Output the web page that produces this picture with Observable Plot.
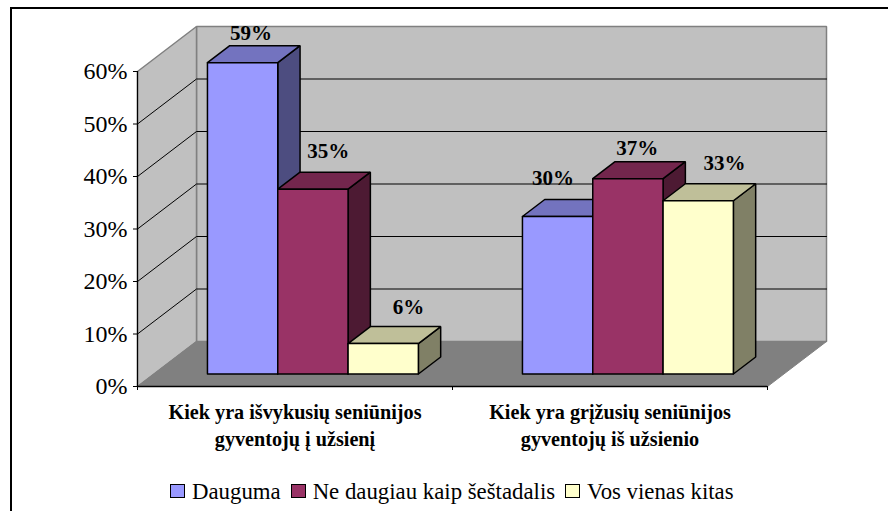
<!DOCTYPE html>
<html><head><meta charset="utf-8">
<script src="https://cdn.jsdelivr.net/npm/d3@7"></script>
<script src="https://cdn.jsdelivr.net/npm/@observablehq/plot@0.6"></script>
<style>
html,body{margin:0;padding:0;background:#fff;width:888px;height:511px;overflow:hidden}
#frame{position:absolute;left:10px;top:7px;right:-10px;bottom:-10px;border-left:2px solid #000;border-top:2px solid #000}
#chart{position:absolute;left:0;top:0}
#chart svg{overflow:visible;background:transparent;display:block}
#legend{position:absolute;left:170px;top:479px;display:flex;align-items:center;font:22.8px "Liberation Serif",serif;color:#000;white-space:nowrap;height:26px}
#legend i{display:inline-block;width:13px;height:12px;border:1.5px solid #000;margin-right:7px;transform:translateY(-1px)}
#legend span{display:inline-flex;align-items:center;margin-right:10px}
</style></head><body>
<div id="frame"></div>
<div id="chart"></div>
<div id="legend"></div>
<script>
const categories = ["Kiek yra išvykusių seniūnijos\ngyventojų į užsienį", "Kiek yra grįžusių seniūnijos\ngyventojų iš užsienio"];
const seriesNames = ["Dauguma", "Ne daugiau kaip šeštadalis", "Vos vienas kitas"];
const dauguma = [59.3, 30];
const neDaugiau = [35.2, 37.2];
const vosVienas = [5.8, 33];
const labelsA = ["59%", "30%"];
const labelsB = ["35%", "37%"];
const labelsC = ["6%", "33%"];
const yTicks = [0, 10, 20, 30, 40, 50, 60];

const seriesValues = [dauguma, neDaugiau, vosVienas];
const seriesLabels = [labelsA, labelsB, labelsC];
const fronts = ["#9999ff", "#993366", "#ffffcc"];
const tops = ["#7373bf", "#73264d", "#bfbf99"];
const sides = ["#4d4d80", "#4d1a33", "#808066"];

// oblique projection of the Excel 3-D box: depth z in 0..1 shifts x and y
const skewX = 59 / 315, skewY = 45 / 5.25;
const P = (x, y, z) => ({X: x + z * skewX, Y: y + z * skewY});
const poly = (pts, fill, stroke, strokeWidth = 1.5) =>
  Plot.line([...pts, pts[0]].map(p => P(...p)), {x: "X", y: "Y", fill, stroke, strokeWidth, strokeLinejoin: "miter"});

const marks = [];
const xMax = categories.length, yMax = 60;
// walls and floor
marks.push(poly([[0,0,1],[xMax,0,1],[xMax,yMax,1],[0,yMax,1]], "#c0c0c0", "#808080", 1.5));
marks.push(poly([[0,0,0],[0,0,1],[0,yMax,1],[0,yMax,0]], "#c0c0c0", "#808080", 1.5));
marks.push(poly([[0,0,0],[xMax,0,0],[xMax,0,1],[0,0,1]], "#808080", "#808080", 1));
// gridlines on side wall and back wall
for (const t of yTicks.slice(1, -1)) {
  marks.push(Plot.line([P(0,t,0), P(0,t,1), P(xMax,t,1)], {x:"X", y:"Y", stroke:"#000", strokeWidth:1}));
}
// bars
const z0 = 0.278, z1 = 0.656, barW = 0.2232, barStart = 0.17;
categories.forEach((c, i) => {
  seriesValues.forEach((vals, s) => {
    const v = vals[i], a = i + barStart + s * barW, b = a + barW;
    marks.push(poly([[b,0,z0],[b,0,z1],[b,v,z1],[b,v,z0]], sides[s], "#000"));
    marks.push(poly([[a,v,z0],[b,v,z0],[b,v,z1],[a,v,z1]], tops[s], "#000"));
    marks.push(poly([[a,0,z0],[b,0,z0],[b,v,z0],[a,v,z0]], fronts[s], "#000"));
  });
});
// axes
marks.push(Plot.ruleX([0], {y1: 0, y2: yMax, stroke: "#000", strokeWidth: 1.2}));
marks.push(Plot.ruleY([0], {x1: 0, x2: xMax, stroke: "#000", strokeWidth: 1.5}));
marks.push(Plot.axisY({ticks: yTicks, tickFormat: d => d + "%", tickSize: 4, tickPadding: 6, fontSize: 24, stroke: "#000", fill: "#000", label: null, textStroke: "none"}));
marks.push(Plot.axisX({ticks: [0, 1, 2], tickFormat: () => "", tickSize: 4, stroke: "#000", label: null}));
// category labels
marks.push(Plot.text(categories, {x: (d, i) => i + 0.5, y: () => 0, dy: 37, fontSize: 20.2, fontWeight: "bold", fill: "#000", lineHeight: 1.36, lineAnchor: "middle"}));
// data labels (hand-placed in the original, hence the per-label nudges)
const nudgeX = [[-14, -27], [-7, -13], [3, 4]];
const nudgeY = [[-12, -21], [-21, -13], [-19, -20]];
categories.forEach((c, i) => {
  seriesValues.forEach((vals, s) => {
    const p = P(i + barStart + (s + 0.5) * barW, vals[i], z1);
    marks.push(Plot.text([seriesLabels[s][i]], {x: () => p.X, y: () => p.Y, text: d => d, dx: nudgeX[s][i], dy: nudgeY[s][i], fontSize: 21, fontWeight: "bold", fill: "#000", lineAnchor: "middle"}));
  });
});

const plot = Plot.plot({
  width: 888, height: 470,
  marginLeft: 137, marginRight: 121, marginTop: 71, marginBottom: 84,
  x: {domain: [0, xMax], axis: null},
  y: {domain: [0, yMax], axis: null},
  style: {fontFamily: '"Liberation Serif", serif', background: "transparent", overflow: "visible"},
  marks
});
document.getElementById("chart").append(plot);
const lg = document.getElementById("legend");
seriesNames.forEach((n, s) => {
  const e = document.createElement("span");
  const sw = document.createElement("i"); sw.style.background = fronts[s];
  e.append(sw, document.createTextNode(n));
  lg.append(e);
});
</script>
</body></html>
